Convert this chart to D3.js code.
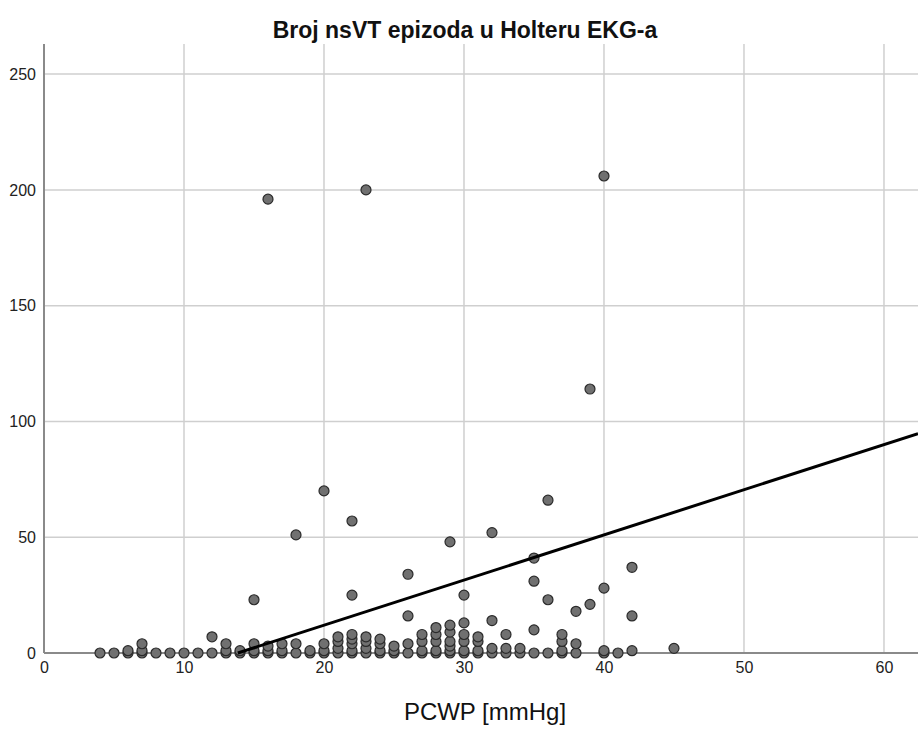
<!DOCTYPE html>
<html>
<head>
<meta charset="utf-8">
<script src="https://cdn.jsdelivr.net/npm/d3@7"></script>
<style>
  body { margin: 0; background: #fff; }
  svg { display: block; font-family: "Liberation Sans", Arial, sans-serif; }
</style>
</head>
<body>
<svg id="chart" width="918" height="729"></svg>
<script>
// PCWP (mmHg) and number of nsVT episodes, one entry per patient
var pcwp = [
  4, 5, 6, 6, 7, 7, 7, 8, 9, 10, 11, 12, 12, 13, 13, 13, 14, 14,
  15, 15, 15, 15, 16, 16, 16, 16, 17, 17, 17, 18, 18, 18, 19, 19,
  20, 20, 20, 20, 21, 21, 21, 21, 22, 22, 22, 22, 22, 22, 22,
  23, 23, 23, 23, 23, 24, 24, 24, 24, 25, 25, 25, 26, 26, 26, 26,
  27, 27, 27, 27, 28, 28, 28, 28, 28, 29, 29, 29, 29, 29, 29, 29,
  30, 30, 30, 30, 30, 30, 31, 31, 31, 31, 32, 32, 32, 32, 33, 33, 33,
  34, 34, 35, 35, 35, 35, 36, 36, 36, 37, 37, 37, 37, 38, 38, 38,
  39, 39, 40, 40, 40, 40, 41, 42, 42, 42, 45
];
var nsvt = [
  0, 0, 0, 1, 0, 1, 4, 0, 0, 0, 0, 0, 7, 0, 1, 4, 0, 1,
  0, 1, 4, 23, 0, 1, 3, 196, 0, 1, 4, 0, 4, 51, 0, 1,
  0, 1, 4, 70, 0, 2, 5, 7, 0, 1, 4, 6, 8, 25, 57,
  0, 2, 5, 7, 200, 0, 1, 4, 6, 0, 1, 3, 0, 4, 16, 34,
  0, 1, 5, 8, 0, 1, 5, 8, 11, 0, 1, 3, 5, 9, 12, 48,
  0, 1, 5, 8, 13, 25, 0, 1, 5, 7, 0, 2, 14, 52, 0, 2, 8,
  0, 2, 0, 10, 31, 41, 0, 23, 66, 0, 1, 5, 8, 0, 4, 18,
  21, 114, 0, 1, 28, 206, 0, 1, 16, 37, 2
];

// fit line
var fitIntercept = -27;
var fitSlope = 1.95;

var xTicks = [0, 10, 20, 30, 40, 50, 60];
var yTicks = [0, 50, 100, 150, 200, 250];

var titleText = "Broj nsVT epizoda u Holteru EKG-a";
var xLabel = "PCWP [mmHg]";

(function() {

var svg = d3.select("#chart");

var left = 44, right = 918, plotTop = 44, bottom = 653;

var x = d3.scaleLinear().domain([0, 62.43]).range([left, right]);
var y = d3.scaleLinear().domain([0, 263]).range([bottom, plotTop]);

// grid lines
svg.append("g").selectAll("line").data(xTicks.slice(1)).enter().append("line")
  .attr("x1", d => x(d)).attr("x2", d => x(d))
  .attr("y1", plotTop).attr("y2", bottom)
  .attr("stroke", "#cfcfcf").attr("stroke-width", 1.5);

svg.append("g").selectAll("line").data(yTicks.slice(1)).enter().append("line")
  .attr("x1", left).attr("x2", right)
  .attr("y1", d => y(d)).attr("y2", d => y(d))
  .attr("stroke", "#cfcfcf").attr("stroke-width", 1.5);

// axes
var xAxis = svg.append("g")
  .attr("transform", "translate(0," + bottom + ")")
  .call(d3.axisBottom(x).tickValues(xTicks).tickSize(0).tickPadding(9));
var yAxis = svg.append("g")
  .attr("transform", "translate(" + left + ",0)")
  .call(d3.axisLeft(y).tickValues(yTicks).tickSize(0).tickPadding(8));

[xAxis, yAxis].forEach(function(a) {
  a.attr("font-size", 16).attr("font-family", "'Liberation Sans', Arial, sans-serif");
  a.select(".domain").attr("stroke", "#8a8a8a").attr("stroke-width", 2);
  a.selectAll("text").attr("fill", "#222");
});
xAxis.select(".domain").attr("d", "M" + left + ",0H" + right);
yAxis.select(".domain").attr("d", "M0," + plotTop + "V" + bottom);

// points
svg.append("g").selectAll("circle")
  .data(d3.range(pcwp.length))
  .enter().append("circle")
  .attr("cx", i => x(pcwp[i]))
  .attr("cy", i => y(nsvt[i]))
  .attr("r", 5)
  .attr("fill", "#707070")
  .attr("stroke", "#2a2a2a")
  .attr("stroke-width", 1.2);

// fit line, clipped at y = 0
var x0 = -fitIntercept / fitSlope;
var x1 = x.domain()[1];
svg.append("line")
  .attr("x1", x(x0)).attr("y1", y(fitIntercept + fitSlope * x0))
  .attr("x2", x(x1)).attr("y2", y(fitIntercept + fitSlope * x1))
  .attr("stroke", "#000").attr("stroke-width", 3);

// titles
svg.append("text")
  .attr("x", 465).attr("y", 38)
  .attr("text-anchor", "middle")
  .attr("font-size", "23px").attr("font-weight", "bold")
  .attr("fill", "#111")
  .text(titleText);

svg.append("text")
  .attr("x", 485).attr("y", 720)
  .attr("text-anchor", "middle")
  .attr("font-size", "24px")
  .attr("fill", "#111")
  .text(xLabel);

})();
</script>
</body>
</html>
